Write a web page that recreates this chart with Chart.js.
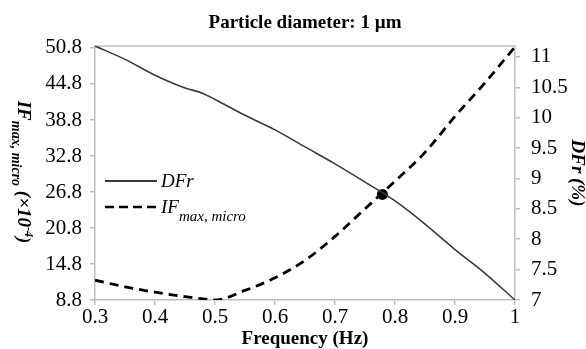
<!DOCTYPE html>
<html><head><meta charset="utf-8">
<script src="https://cdn.jsdelivr.net/npm/chart.js@4.4.0/dist/chart.umd.min.js"></script>
<style>html,body{margin:0;padding:0;background:#fff;} #wrap{width:586px;height:349px;position:relative;}</style>
</head><body><div id="wrap"><canvas id="c"></canvas></div>
<script>
const frequency = [0.3, 0.35, 0.4, 0.45, 0.48, 0.5, 0.55, 0.6, 0.65, 0.7, 0.75, 0.8, 0.85, 0.9, 0.95, 1.0];
const dfr = [11.18, 10.96, 10.70, 10.49, 10.40, 10.30, 10.04, 9.80, 9.52, 9.24, 8.94, 8.63, 8.25, 7.83, 7.44, 7.0];
const ifMaxMicro = [12.1, 11.0, 10.1, 9.35, 9.0, 8.8, 10.4, 12.5, 15.4, 19.4, 24.0, 28.6, 33.4, 39.4, 45.0, 51.0];
const crossFreq = [0.779];
const crossIF = [26.4];
const xTicks = [0.3, 0.4, 0.5, 0.6, 0.7, 0.8, 0.9, 1];
const leftTicks = [8.8, 14.8, 20.8, 26.8, 32.8, 38.8, 44.8, 50.8];
const rightTicks = [7, 7.5, 8, 8.5, 9, 9.5, 10, 10.5, 11];

const SERIF = '"Liberation Serif", "Times New Roman", serif';
const AXIS = '#bfbfbf';

const zip = (xs, ys) => xs.map((x, i) => ({x: x, y: ys[i]}));

function richText(ctx, parts, startX) {
  let x = startX;
  parts.forEach(p => {
    ctx.font = p.font;
    ctx.fillText(p.t, x, p.dy || 0);
    x += ctx.measureText(p.t).width;
  });
}
function richWidth(ctx, parts) {
  let w = 0;
  parts.forEach(p => { ctx.font = p.font; w += ctx.measureText(p.t).width; });
  return w;
}

const decor = {
  id: 'decor',
  beforeDatasetsDraw(chart) {
    const {ctx, chartArea: a} = chart;
    ctx.save();
    ctx.strokeStyle = AXIS; ctx.lineWidth = 1.5;
    ctx.beginPath(); ctx.moveTo(a.left, a.top); ctx.lineTo(a.right, a.top); ctx.stroke();
    ctx.restore();
  },
  afterDraw(chart) {
    const {ctx} = chart;
    ctx.save();
    ctx.fillStyle = '#000';
    ctx.textBaseline = 'alphabetic';
    const bi = s => 'italic bold ' + s + 'px ' + SERIF;
    const tParts = [
      {t: 'IF', font: bi(19)},
      {t: 'max, micro', font: bi(14), dy: 6},
      {t: ' (×10', font: bi(19)},
      {t: '-4', font: bi(12), dy: -7},
      {t: ')', font: bi(19)}
    ];
    ctx.save();
    ctx.translate(17.5, 172);
    ctx.rotate(Math.PI / 2);
    const tw = richWidth(ctx, tParts);
    richText(ctx, tParts, -tw / 2);
    ctx.restore();

    ctx.strokeStyle = '#3a3a3a'; ctx.lineWidth = 1.8;
    ctx.beginPath(); ctx.moveTo(105, 181); ctx.lineTo(157, 181); ctx.stroke();
    ctx.strokeStyle = '#000'; ctx.lineWidth = 2.6; ctx.setLineDash([9, 5]);
    ctx.beginPath(); ctx.moveTo(105, 207); ctx.lineTo(157, 207); ctx.stroke();
    ctx.setLineDash([]);
    const it = s => 'italic ' + s + 'px ' + SERIF;
    ctx.save(); ctx.translate(0, 187);
    richText(ctx, [{t: 'DFr', font: it(19)}], 161);
    ctx.restore();
    ctx.save(); ctx.translate(0, 213);
    richText(ctx, [{t: 'IF', font: it(19)}, {t: 'max, micro', font: it(15), dy: 8}], 161);
    ctx.restore();
    ctx.restore();
  }
};

new Chart(document.getElementById('c'), {
  type: 'line',
  data: {
    datasets: [
      {label: 'DFr', data: zip(frequency, dfr), yAxisID: 'y1', borderColor: '#3a3a3a', borderWidth: 1.6,
       pointRadius: 0, cubicInterpolationMode: 'monotone', fill: false},
      {label: 'IFmax, micro', data: zip(frequency, ifMaxMicro), yAxisID: 'y', borderColor: '#000', borderWidth: 2.8,
       borderDash: [9, 6], pointRadius: 0, cubicInterpolationMode: 'monotone', fill: false},
      {label: 'cross', data: zip(crossFreq, crossIF), yAxisID: 'y', showLine: false, pointRadius: 5.5,
       pointBackgroundColor: '#000', pointBorderColor: '#000', borderWidth: 0}
    ]
  },
  options: {
    responsive: true, maintainAspectRatio: false, animation: false, devicePixelRatio: 1,
    layout: {padding: {left: 24, right: 0, top: 0, bottom: 0}},
    plugins: {
      legend: {display: false},
      tooltip: {enabled: false},
      title: {display: true, text: 'Particle diameter: 1 µm', color: '#000',
        font: {family: SERIF, size: 19, weight: 'bold', lineHeight: 1.2},
        padding: {top: 12, bottom: 11.2}}
    },
    scales: {
      x: {
        type: 'linear', min: 0.3, max: 1,
        afterBuildTicks: s => { s.ticks = xTicks.map(v => ({value: v})); },
        ticks: {callback: v => String(+(+v).toFixed(1)), autoSkip: false, maxRotation: 0, minRotation: 0,
          font: {family: SERIF, size: 21}, color: '#000', padding: 0},
        grid: {display: true, drawOnChartArea: false, drawTicks: true, tickLength: 5, color: AXIS, lineWidth: 1.5},
        border: {display: true, color: AXIS, width: 1.5},
        title: {display: true, text: 'Frequency (Hz)', color: '#000',
          font: {family: SERIF, size: 19, weight: 'bold', lineHeight: 1}, padding: {top: 0, bottom: 0}},
        afterFit: s => { s.height = 49; }
      },
      y: {
        position: 'left', min: 8.8, max: 51.13,
        afterBuildTicks: s => { s.ticks = leftTicks.map(v => ({value: v})); },
        ticks: {callback: v => (+v).toFixed(1), autoSkip: false, font: {family: SERIF, size: 21}, color: '#000', padding: 8},
        grid: {display: true, drawOnChartArea: false, drawTicks: true, tickLength: 5, color: AXIS, lineWidth: 1.5},
        border: {display: true, color: AXIS, width: 1.5},
        afterFit: s => { s.width = 71; }
      },
      y1: {
        position: 'right', min: 7, max: 11.18,
        afterBuildTicks: s => { s.ticks = rightTicks.map(v => ({value: v})); },
        ticks: {callback: v => String(v), autoSkip: false, font: {family: SERIF, size: 21}, color: '#000', padding: 11},
        grid: {display: true, drawOnChartArea: false, drawTicks: true, tickLength: 5, color: AXIS, lineWidth: 1.5},
        border: {display: true, color: AXIS, width: 1.5},
        title: {display: true, text: 'DFr (%)', color: '#000',
          font: {family: SERIF, size: 19, weight: 'bold', style: 'italic', lineHeight: 1}, padding: {top: 0, bottom: 0}},
        afterFit: s => { s.width = 71; }
      }
    }
  },
  plugins: [decor]
});
</script>
</body></html>
